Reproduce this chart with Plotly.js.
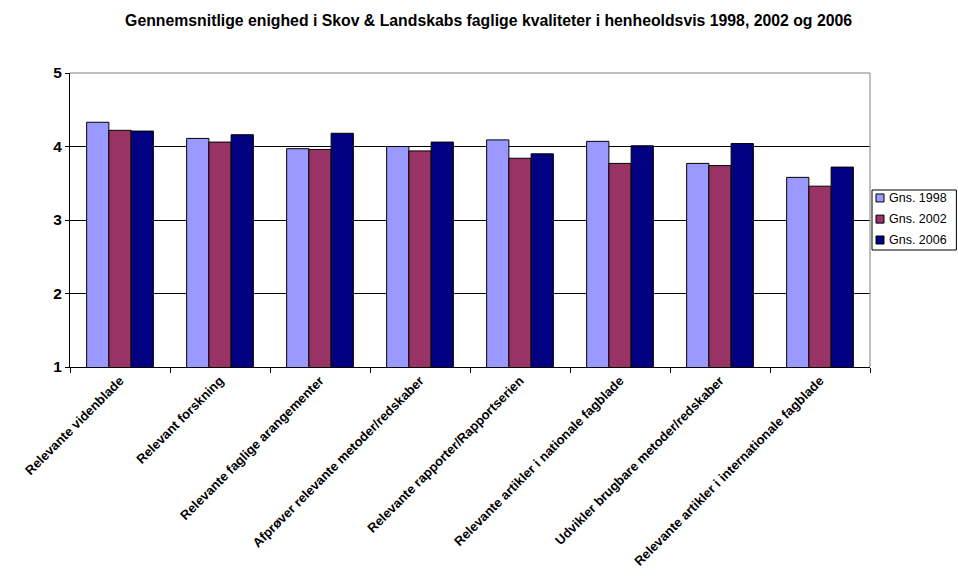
<!DOCTYPE html>
<html>
<head>
<meta charset="utf-8">
<script src="https://cdn.plot.ly/plotly-3.0.1.min.js"></script>
<style>html,body{margin:0;padding:0;background:#fff;}#chart{width:958px;height:578px;}</style>
</head>
<body>
<div id="chart"></div>
<script>
const categories = [
  "Relevante videnblade",
  "Relevant forskning",
  "Relevante faglige arangementer",
  "Afprøver relevante metoder/redskaber",
  "Relevante rapporter/Rapportserien",
  "Relevante artikler i nationale fagblade",
  "Udvikler brugbare metoder/redskaber",
  "Relevante artikler i internationale fagblade"
];
const seriesNames = ["Gns. 1998", "Gns. 2002", "Gns. 2006"];
const gns1998 = [4.33, 4.11, 3.97, 4.00, 4.09, 4.07, 3.77, 3.58];
const gns2002 = [4.22, 4.06, 3.96, 3.94, 3.84, 3.77, 3.74, 3.46];
const gns2006 = [4.21, 4.16, 4.18, 4.06, 3.90, 4.01, 4.04, 3.72];
const colors = ["#9999FF", "#993366", "#000080"];
const values = [gns1998, gns2002, gns2006];

const font = "Arial, 'Liberation Sans', sans-serif";
const traces = values.map((v, i) => ({
  type: "bar",
  name: seriesNames[i],
  x: categories,
  y: v,
  marker: {color: colors[i], line: {color: "#000", width: 1}},
  hoverinfo: "y",
  showlegend: false
}));

// Compact legend (Excel style) built from series names and colours
const plotW = 800, plotH = 294;
const legX0 = 1.0025, legX1 = 1.108, legY0 = 0.398, legY1 = 0.602;
const rowY = [0.575, 0.503, 0.432];
const sq = 8;
const legendShapes = [{
  type: "rect", xref: "paper", yref: "paper",
  x0: legX0, x1: legX1, y0: legY0, y1: legY1,
  line: {color: "#000", width: 1}, fillcolor: "#fff", layer: "above"
}];
const legendAnn = [];
seriesNames.forEach((name, i) => {
  legendShapes.push({
    type: "rect", xref: "paper", yref: "paper",
    x0: legX0 + 4 / plotW, x1: legX0 + (4 + sq) / plotW,
    y0: rowY[i] - (sq / 2) / plotH, y1: rowY[i] + (sq / 2) / plotH,
    fillcolor: colors[i], line: {color: "#000", width: 1}, layer: "above"
  });
  legendAnn.push({
    xref: "paper", yref: "paper", x: legX0 + 15 / plotW, y: rowY[i],
    xanchor: "left", yanchor: "middle", showarrow: false,
    text: name, font: {family: font, size: 12.5, color: "#000"}
  });
});

const layout = {
  width: 958, height: 578,
  margin: {l: 70, r: 88, t: 73, b: 211, autoexpand: false},
  paper_bgcolor: "#fff", plot_bgcolor: "#fff",
  barmode: "group",
  bargap: 0.333,
  bargroupgap: 0,
  title: {
    text: "<b>Gennemsnitlige enighed i Skov & Landskabs faglige kvaliteter i henheoldsvis 1998, 2002 og 2006</b>",
    font: {family: font, size: 15.8, color: "#000"},
    x: 0.51, xanchor: "center", y: 0.965, yanchor: "middle"
  },
  showlegend: false,
  xaxis: {
    type: "category",
    showline: true, linecolor: "#000", linewidth: 1,
    ticks: "outside", tickson: "boundaries", ticklen: 5, tickcolor: "#000",
    tickangle: -45,
    tickfont: {family: font, size: 13, color: "#000", weight: "bold"},
    showgrid: false, fixedrange: true
  },
  yaxis: {
    range: [1, 5],
    dtick: 1,
    showline: true, linecolor: "#000", linewidth: 1,
    ticks: "outside", ticklen: 4, tickcolor: "#000",
    tickfont: {family: font, size: 15.5, color: "#000", weight: "bold"},
    showgrid: true, gridcolor: "#000", gridwidth: 1,
    zeroline: false, fixedrange: true
  },
  shapes: [
    {type: "line", xref: "paper", yref: "paper", x0: 0, x1: 1, y0: 1, y1: 1, line: {color: "#808080", width: 1}, layer: "above"},
    {type: "line", xref: "paper", yref: "paper", x0: 1, x1: 1, y0: 0, y1: 1, line: {color: "#808080", width: 1}, layer: "above"}
  ].concat(legendShapes),
  annotations: legendAnn
};
Plotly.newPlot("chart", traces, layout, {displayModeBar: false, staticPlot: true});
</script>
</body>
</html>
